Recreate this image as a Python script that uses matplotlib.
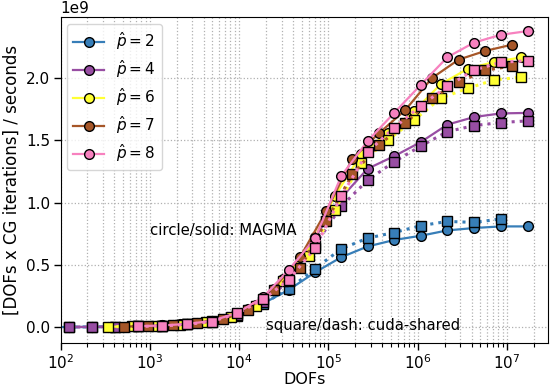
import numpy as np
import matplotlib
matplotlib.use("Agg")
import matplotlib.pyplot as plt

# ---------------- data ----------------
orders = [2, 4, 6, 7, 8]
colors = ['#377eb8', '#984ea3', '#ffff33', '#a65628', '#f781bf']

dofs_p2 = [27, 45, 75, 125, 225, 405, 729, 1377, 2601, 4913, 9537, 18513, 35937, 70785,
           139425, 274625, 545025, 1081665, 2146689, 4276737, 8520321, 16974593]
dofs_p4 = [125, 225, 405, 729, 1377, 2601, 4913, 9537, 18513, 35937, 70785, 139425,
           274625, 545025, 1081665, 2146689, 4276737, 8520321, 16974593]
dofs_p6 = [343, 637, 1183, 2197, 4225, 8125, 15625, 30625, 60025, 117649, 232897, 461041,
           912673, 1815937, 3613153, 7189057, 14340865]
dofs_p7 = [512, 960, 1800, 3375, 6525, 12615, 24389, 47937, 94221, 185193, 367137, 727833,
           1442897, 2873025, 5720625, 11390625]
dofs_p8 = [729, 1377, 2601, 4913, 9537, 18513, 35937, 70785, 139425, 274625, 545025,
           1081665, 2146689, 4276737, 8520321, 16974593]

# throughput in units of 1e9 [DOFs x CG iterations] / s
magma_p2 = [0.0003, 0.0005, 0.0008, 0.0013, 0.0022, 0.004, 0.007, 0.013, 0.024, 0.044, 0.095,
            0.19, 0.30, 0.44, 0.562, 0.648, 0.70, 0.734, 0.777, 0.796, 0.809, 0.809]
cuda_p2 = [0.0003, 0.0005, 0.0008, 0.0013, 0.0022, 0.004, 0.007, 0.013, 0.024, 0.045, 0.09,
           0.19, 0.304, 0.47, 0.629, 0.715, 0.76, 0.815, 0.849, 0.841, 0.869]

magma_p4 = [0.0013, 0.0023, 0.004, 0.0075, 0.014, 0.026, 0.049, 0.10, 0.22, 0.43, 0.72, 1.04,
            1.272, 1.373, 1.486, 1.626, 1.687, 1.716, 1.72]
cuda_p4 = [0.0012, 0.0022, 0.004, 0.007, 0.013, 0.025, 0.046, 0.095, 0.205, 0.37, 0.66, 0.97,
           1.18, 1.328, 1.454, 1.57, 1.618, 1.643, 1.656]

magma_p6 = [0.0035, 0.0065, 0.012, 0.022, 0.042, 0.082, 0.18, 0.39, 0.62, 1.05, 1.387, 1.562,
            1.736, 1.952, 2.073, 2.13, 2.165]
cuda_p6 = [0.0035, 0.006, 0.011, 0.021, 0.04, 0.08, 0.17, 0.37, 0.575, 0.94, 1.32, 1.502,
           1.664, 1.839, 1.917, 1.985, 2.006]

magma_p7 = [0.005, 0.0095, 0.018, 0.033, 0.068, 0.145, 0.31, 0.56, 0.93, 1.352, 1.556, 1.744,
            2.0, 2.148, 2.218, 2.268]
cuda_p7 = [0.005, 0.009, 0.017, 0.031, 0.065, 0.137, 0.295, 0.473, 0.85, 1.226, 1.462, 1.637,
           1.839, 1.965, 2.062, 2.097]

magma_p8 = [0.0075, 0.014, 0.026, 0.05, 0.115, 0.24, 0.46, 0.712, 1.215, 1.494, 1.72, 1.946,
            2.167, 2.285, 2.347, 2.377]
cuda_p8 = [0.006, 0.01, 0.022, 0.045, 0.11, 0.223, 0.38, 0.635, 1.051, 1.406, 1.602, 1.777,
           1.933, 2.065, 2.126, 2.14]

series = [
    (dofs_p2, magma_p2, cuda_p2),
    (dofs_p4, magma_p4, cuda_p4),
    (dofs_p6, magma_p6, cuda_p6),
    (dofs_p7, magma_p7, cuda_p7),
    (dofs_p8, magma_p8, cuda_p8),
]

# ---------------- plot ----------------
plt.rcParams['font.family'] = ['DejaVu Sans']
fig = plt.figure(figsize=(5.5, 3.86), dpi=100)
ax = fig.add_axes([0.110, 0.112, 0.887, 0.844])

handles = []
for p, c, (d, m, s) in zip(orders, colors, series):
    d = np.array(d, dtype=float)
    h, = ax.plot(d[:len(m)], np.array(m) * 1e9, '-', marker='o', color=c, lw=1.6,
                 ms=7, mec='black', mew=1.0, label=r'$\hat{p} = %d$' % p)
    ax.plot(d[:len(s)], np.array(s) * 1e9, ':', marker='s', color=c, lw=2.2,
            ms=7, mec='black', mew=1.0)
    handles.append(h)

ax.set_xscale('log')
ax.set_xlim(1e2, 2.9e7)
ax.set_ylim(-0.125e9, 2.49e9)

ax.grid(True, which='major', axis='both', ls=':', color='#b0b0b0', lw=0.9)
ax.grid(True, which='minor', axis='x', ls=':', color='#b0b0b0', lw=0.9)

ax.tick_params(axis='both', which='major', labelsize=11, length=5, width=1,
               direction='out', pad=2.5)
ax.tick_params(axis='both', which='minor', length=3, width=0.8, direction='out')
ax.yaxis.get_offset_text().set_fontsize(11)

ax.set_xlabel('DOFs', fontsize=11.5, labelpad=0)
ax.set_ylabel('[DOFs x CG iterations] / seconds', fontsize=12, labelpad=4)

ax.text(1e3, 0.78e9, 'circle/solid: MAGMA', fontsize=10.7, va='center', ha='left')
ax.text(2.0e4, 0.01e9, 'square/dash: cuda-shared', fontsize=10.7, va='center', ha='left')

ax.legend(handles=handles, loc='upper left', fontsize=11, framealpha=0.8,
          borderaxespad=0.45, labelspacing=0.4)

fig.savefig('out.png', dpi=100)
